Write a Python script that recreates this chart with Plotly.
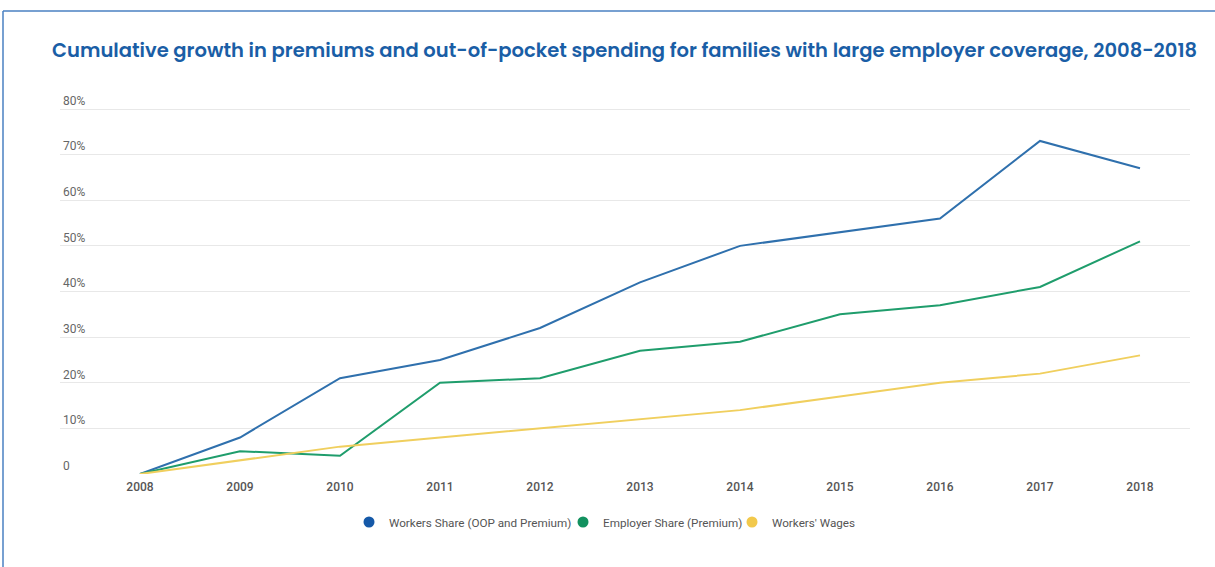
import plotly.graph_objects as go

years = [2008, 2009, 2010, 2011, 2012, 2013, 2014, 2015, 2016, 2017, 2018]
workers_share = [0, 8, 21, 25, 32, 42, 50, 53, 56, 73, 67]
employer_share = [0, 5, 4, 20, 21, 27, 29, 35, 37, 41, 51]
workers_wages = [0, 3, 6, 8, 10, 12, 14, 17, 20, 22, 26]

series_names = ["Workers Share (OOP and Premium)", "Employer Share (Premium)", "Workers' Wages"]
line_colors = ["#2f70ad", "#1f9d6c", "#f0cf5e"]
marker_colors = ["#1559a8", "#12915f", "#f2c94c"]
y_ticks = [0, 10, 20, 30, 40, 50, 60, 70, 80]
y_tick_labels = ["0", "10%", "20%", "30%", "40%", "50%", "60%", "70%", "80%"]

W, H = 1215, 567
L, R, T, B = 60, 1190, 91, 474
PX_PER_UNIT = (474 - 109) / 80.0
YMAX = (B - T) / PX_PER_UNIT

fig = go.Figure()
for name, vals, lc in zip(series_names, [workers_share, employer_share, workers_wages], line_colors):
    fig.add_trace(go.Scatter(x=years, y=vals, mode="lines", name=name,
                             line=dict(color=lc, width=2), showlegend=False,
                             hovertemplate="%{y}%<extra>" + name + "</extra>"))

def px(x):
    return (x - L) / (R - L)

def py(y):
    return (B - y) / (B - T)

legend_ids = ["legend", "legend2", "legend3"]
legend_x = [369, 583, 752]
for name, mc, lid in zip(series_names, marker_colors, legend_ids):
    fig.add_trace(go.Scatter(x=[None], y=[None], mode="markers", name=name, legend=lid,
                             marker=dict(color=mc, size=11, symbol="circle")))

leg_common = dict(orientation="h", xanchor="left", y=py(522), yanchor="middle",
                  font=dict(family="Roboto", size=11.7, color="#555555"),
                  bgcolor="rgba(0,0,0,0)", itemwidth=30)

layout_legends = {}
for lid, lx in zip(legend_ids, legend_x):
    layout_legends[lid] = dict(x=px(lx - 20), **leg_common)

fig.update_layout(
    width=W, height=H,
    margin=dict(l=L, r=W - R, t=T, b=H - B),
    paper_bgcolor="white", plot_bgcolor="white",
    title=dict(text="Cumulative growth in premiums and out-of-pocket spending for families with large employer coverage, 2008-2018",
               x=52 / W, xanchor="left", y=1 - 50 / H, yanchor="middle",
               font=dict(family="Poppins, Lato, sans-serif", size=19.55, color="#1a5ea6", weight=600)),
    xaxis=dict(range=[2007.2, 2018.5], tickvals=years, ticktext=[str(y) for y in years],
               showgrid=False, zeroline=False, showline=False, ticks="",
               ticklabelstandoff=4,
               tickfont=dict(family="Roboto", size=12, color="#555555", weight=500)),
    yaxis=dict(range=[0, YMAX], tickvals=y_ticks, ticktext=y_tick_labels,
               ticklabelposition="inside top", showgrid=True, gridcolor="#e8e8e8", gridwidth=1,
               zeroline=False, showline=False, ticks="",
               tickfont=dict(family="Roboto", size=12, color="#666666")),
    showlegend=True,
    shapes=[
        dict(type="line", xref="paper", yref="paper", x0=px(3), x1=px(W), y0=py(11), y1=py(11),
             line=dict(color="#4a80c2", width=1.5)),
        dict(type="line", xref="paper", yref="paper", x0=px(3), x1=px(3), y0=py(11), y1=py(H),
             line=dict(color="#4a80c2", width=1.5)),
    ],
    **layout_legends,
)

fig.write_html("out.html")
